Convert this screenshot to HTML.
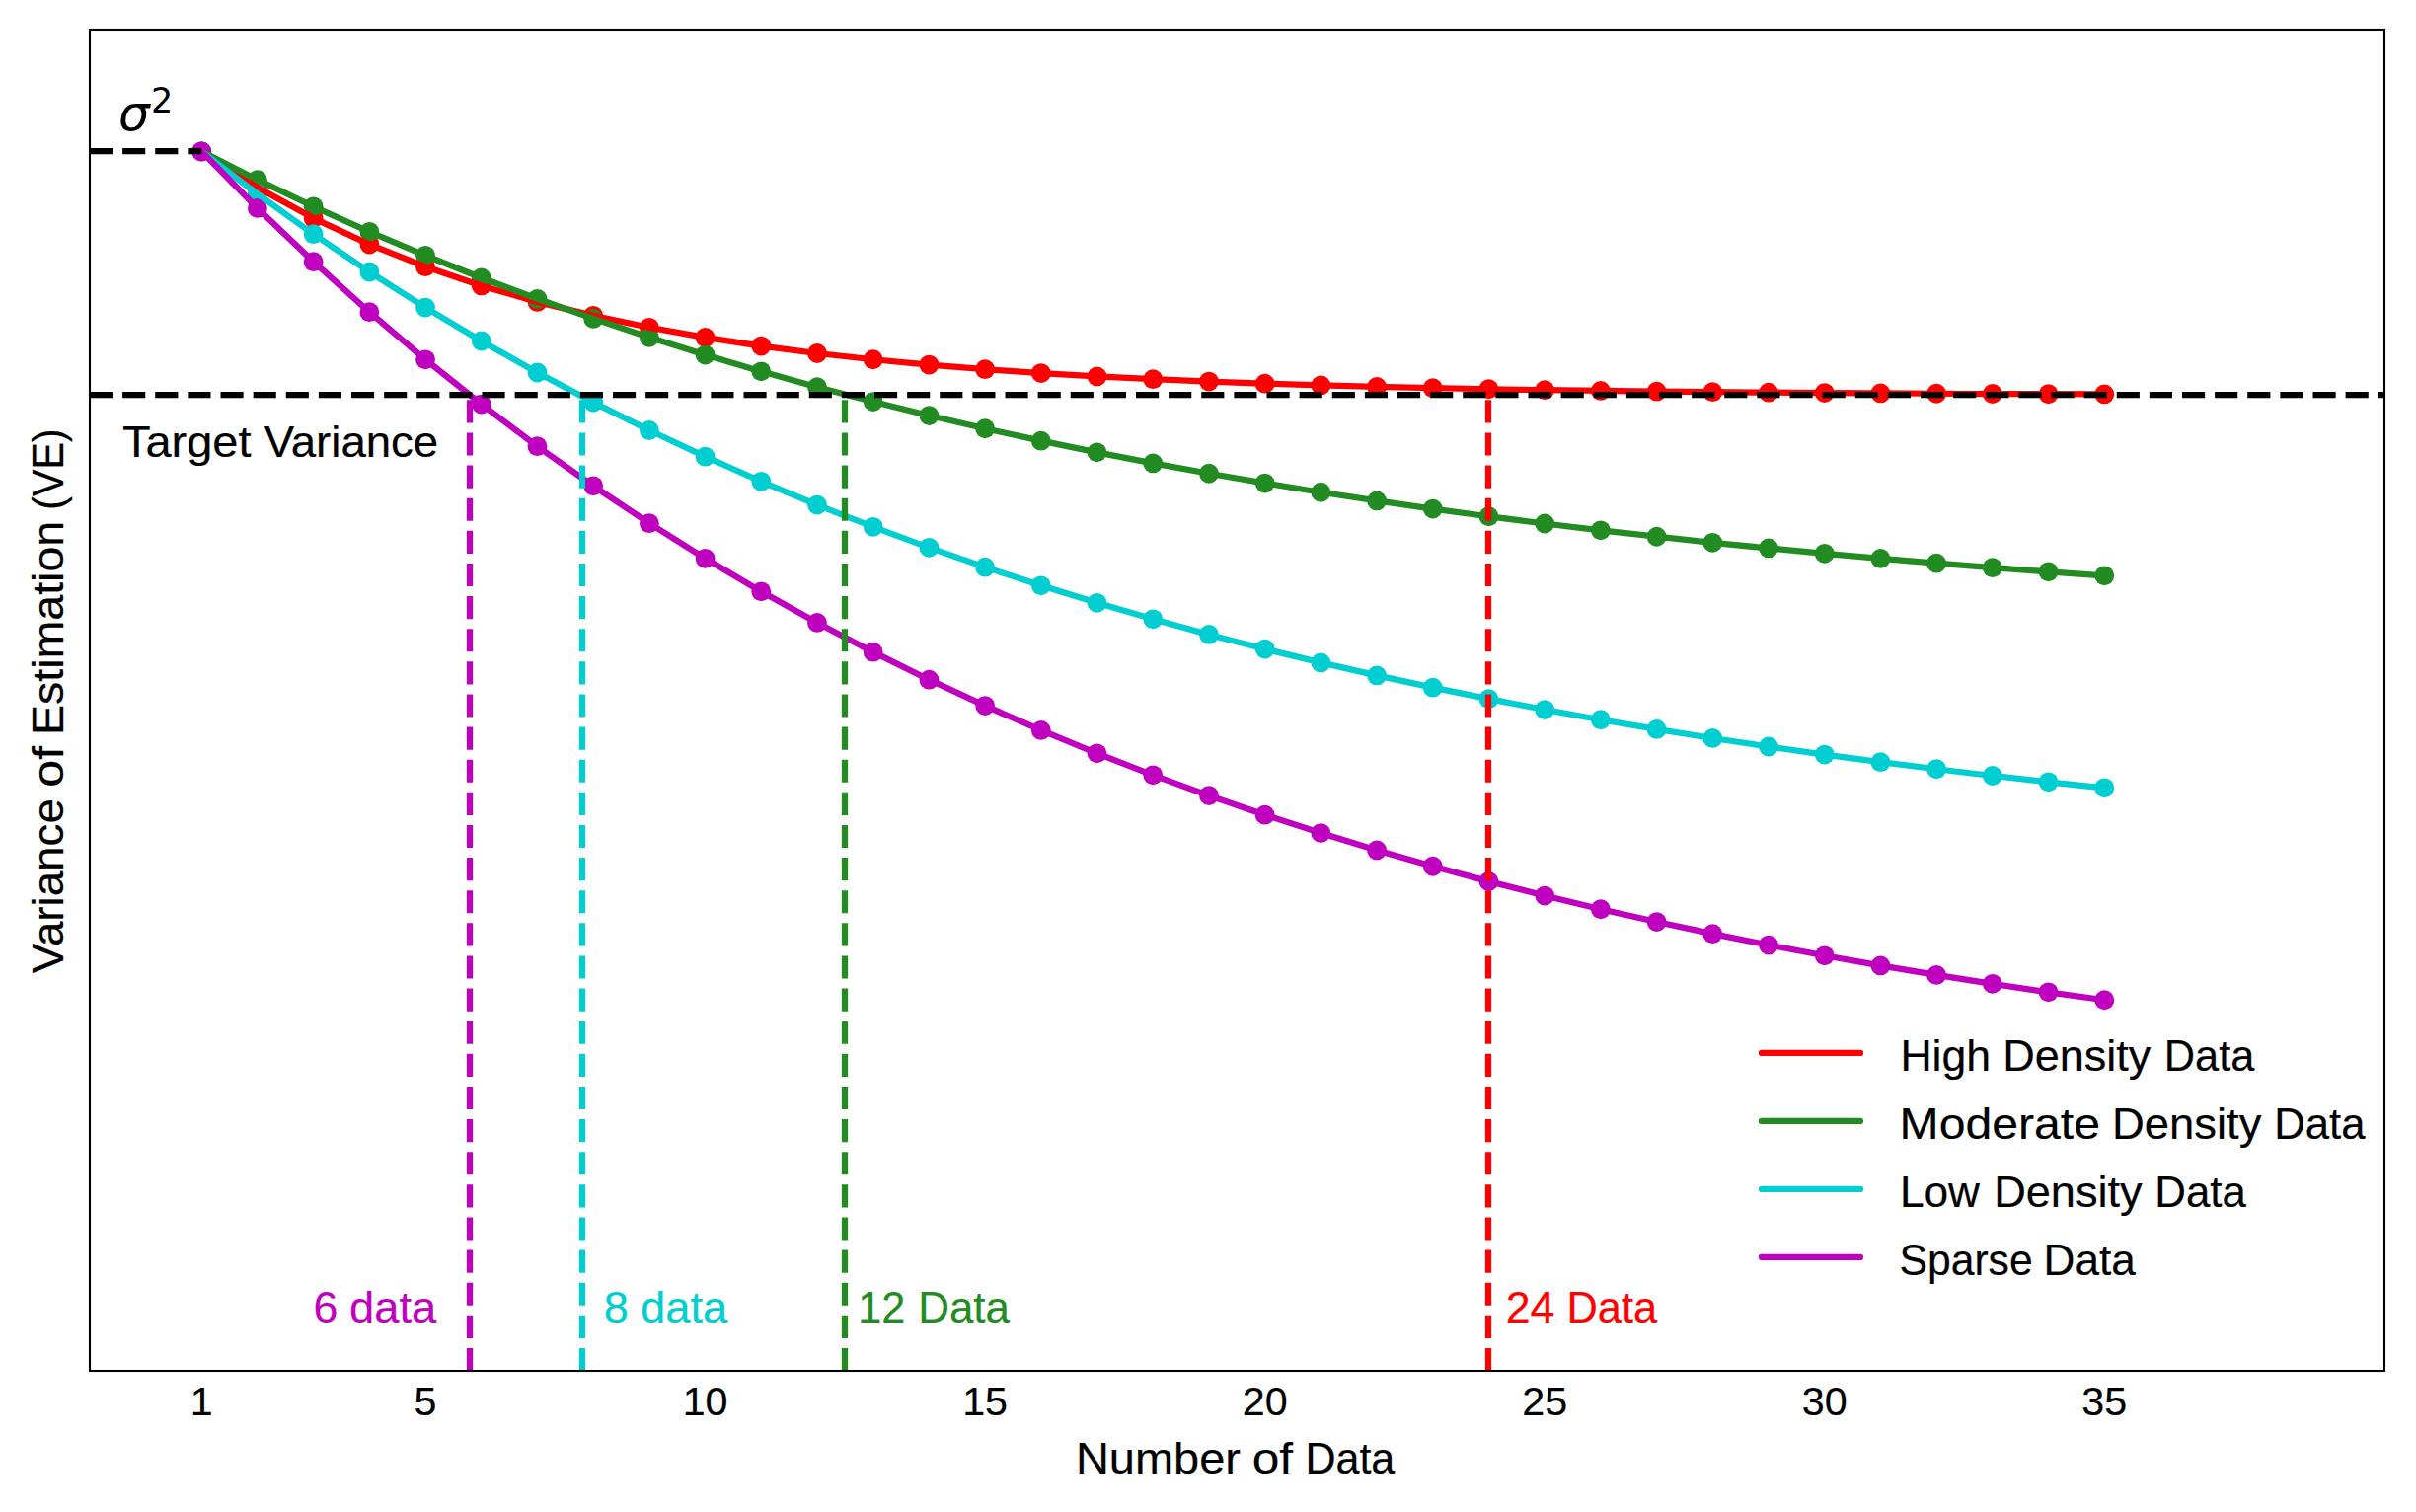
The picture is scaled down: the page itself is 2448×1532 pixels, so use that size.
<!DOCTYPE html>
<html><head><meta charset="utf-8"><title>Variance of Estimation vs Number of Data</title>
<style>html,body{margin:0;padding:0;background:#fff}svg{display:block}text{font-family:"Liberation Sans",sans-serif;white-space:pre}.m{font-family:"DejaVu Sans",sans-serif;font-style:italic}.n{font-family:"DejaVu Sans",sans-serif}</style></head><body>
<svg width="2448" height="1532" viewBox="0 0 2448 1532">
<rect width="2448" height="1532" fill="#fff"/>
<defs><clipPath id="ax"><rect x="91.0" y="30.0" width="2325.0" height="1359.0"/></clipPath></defs>
<g clip-path="url(#ax)">
<g fill="#ff0000"><circle cx="204.21" cy="153.40" r="9.9"/><circle cx="260.92" cy="189.93" r="9.9"/><circle cx="317.63" cy="221.06" r="9.9"/><circle cx="374.34" cy="247.59" r="9.9"/><circle cx="431.04" cy="270.20" r="9.9"/><circle cx="487.75" cy="289.46" r="9.9"/><circle cx="544.46" cy="305.88" r="9.9"/><circle cx="601.17" cy="319.87" r="9.9"/><circle cx="657.87" cy="331.79" r="9.9"/><circle cx="714.58" cy="341.94" r="9.9"/><circle cx="771.29" cy="350.60" r="9.9"/><circle cx="828.00" cy="357.98" r="9.9"/><circle cx="884.70" cy="364.26" r="9.9"/><circle cx="941.41" cy="369.62" r="9.9"/><circle cx="998.12" cy="374.18" r="9.9"/><circle cx="1054.82" cy="378.07" r="9.9"/><circle cx="1111.53" cy="381.39" r="9.9"/><circle cx="1168.24" cy="384.21" r="9.9"/><circle cx="1224.95" cy="386.62" r="9.9"/><circle cx="1281.65" cy="388.67" r="9.9"/><circle cx="1338.36" cy="390.41" r="9.9"/><circle cx="1395.07" cy="391.90" r="9.9"/><circle cx="1451.78" cy="393.17" r="9.9"/><circle cx="1508.48" cy="394.25" r="9.9"/><circle cx="1565.19" cy="395.18" r="9.9"/><circle cx="1621.90" cy="395.96" r="9.9"/><circle cx="1678.60" cy="396.63" r="9.9"/><circle cx="1735.31" cy="397.20" r="9.9"/><circle cx="1792.02" cy="397.69" r="9.9"/><circle cx="1848.73" cy="398.10" r="9.9"/><circle cx="1905.43" cy="398.45" r="9.9"/><circle cx="1962.14" cy="398.75" r="9.9"/><circle cx="2018.85" cy="399.01" r="9.9"/><circle cx="2075.56" cy="399.23" r="9.9"/><circle cx="2132.26" cy="399.41" r="9.9"/></g>
<g fill="#228b22"><circle cx="204.21" cy="153.40" r="9.9"/><circle cx="260.92" cy="182.17" r="9.9"/><circle cx="317.63" cy="209.28" r="9.9"/><circle cx="374.34" cy="234.80" r="9.9"/><circle cx="431.04" cy="258.84" r="9.9"/><circle cx="487.75" cy="281.48" r="9.9"/><circle cx="544.46" cy="302.80" r="9.9"/><circle cx="601.17" cy="322.88" r="9.9"/><circle cx="657.87" cy="341.79" r="9.9"/><circle cx="714.58" cy="359.59" r="9.9"/><circle cx="771.29" cy="376.36" r="9.9"/><circle cx="828.00" cy="392.16" r="9.9"/><circle cx="884.70" cy="407.03" r="9.9"/><circle cx="941.41" cy="421.04" r="9.9"/><circle cx="998.12" cy="434.23" r="9.9"/><circle cx="1054.82" cy="446.66" r="9.9"/><circle cx="1111.53" cy="458.36" r="9.9"/><circle cx="1168.24" cy="469.38" r="9.9"/><circle cx="1224.95" cy="479.76" r="9.9"/><circle cx="1281.65" cy="489.53" r="9.9"/><circle cx="1338.36" cy="498.73" r="9.9"/><circle cx="1395.07" cy="507.40" r="9.9"/><circle cx="1451.78" cy="515.56" r="9.9"/><circle cx="1508.48" cy="523.25" r="9.9"/><circle cx="1565.19" cy="530.49" r="9.9"/><circle cx="1621.90" cy="537.31" r="9.9"/><circle cx="1678.60" cy="543.73" r="9.9"/><circle cx="1735.31" cy="549.78" r="9.9"/><circle cx="1792.02" cy="555.47" r="9.9"/><circle cx="1848.73" cy="560.84" r="9.9"/><circle cx="1905.43" cy="565.89" r="9.9"/><circle cx="1962.14" cy="570.65" r="9.9"/><circle cx="2018.85" cy="575.13" r="9.9"/><circle cx="2075.56" cy="579.35" r="9.9"/><circle cx="2132.26" cy="583.32" r="9.9"/></g>
<g fill="#00ced1"><circle cx="204.21" cy="153.40" r="9.9"/><circle cx="260.92" cy="196.56" r="9.9"/><circle cx="317.63" cy="237.22" r="9.9"/><circle cx="374.34" cy="275.51" r="9.9"/><circle cx="431.04" cy="311.56" r="9.9"/><circle cx="487.75" cy="345.52" r="9.9"/><circle cx="544.46" cy="377.50" r="9.9"/><circle cx="601.17" cy="407.62" r="9.9"/><circle cx="657.87" cy="435.98" r="9.9"/><circle cx="714.58" cy="462.69" r="9.9"/><circle cx="771.29" cy="487.85" r="9.9"/><circle cx="828.00" cy="511.54" r="9.9"/><circle cx="884.70" cy="533.85" r="9.9"/><circle cx="941.41" cy="554.86" r="9.9"/><circle cx="998.12" cy="574.65" r="9.9"/><circle cx="1054.82" cy="593.29" r="9.9"/><circle cx="1111.53" cy="610.84" r="9.9"/><circle cx="1168.24" cy="627.37" r="9.9"/><circle cx="1224.95" cy="642.94" r="9.9"/><circle cx="1281.65" cy="657.60" r="9.9"/><circle cx="1338.36" cy="671.40" r="9.9"/><circle cx="1395.07" cy="684.40" r="9.9"/><circle cx="1451.78" cy="696.65" r="9.9"/><circle cx="1508.48" cy="708.18" r="9.9"/><circle cx="1565.19" cy="719.04" r="9.9"/><circle cx="1621.90" cy="729.27" r="9.9"/><circle cx="1678.60" cy="738.90" r="9.9"/><circle cx="1735.31" cy="747.97" r="9.9"/><circle cx="1792.02" cy="756.51" r="9.9"/><circle cx="1848.73" cy="764.56" r="9.9"/><circle cx="1905.43" cy="772.14" r="9.9"/><circle cx="1962.14" cy="779.27" r="9.9"/><circle cx="2018.85" cy="785.99" r="9.9"/><circle cx="2075.56" cy="792.32" r="9.9"/><circle cx="2132.26" cy="798.28" r="9.9"/></g>
<g fill="#bf00bf"><circle cx="204.21" cy="153.40" r="9.9"/><circle cx="260.92" cy="210.95" r="9.9"/><circle cx="317.63" cy="265.16" r="9.9"/><circle cx="374.34" cy="316.21" r="9.9"/><circle cx="431.04" cy="364.28" r="9.9"/><circle cx="487.75" cy="409.56" r="9.9"/><circle cx="544.46" cy="452.20" r="9.9"/><circle cx="601.17" cy="492.36" r="9.9"/><circle cx="657.87" cy="530.18" r="9.9"/><circle cx="714.58" cy="565.79" r="9.9"/><circle cx="771.29" cy="599.33" r="9.9"/><circle cx="828.00" cy="630.92" r="9.9"/><circle cx="884.70" cy="660.67" r="9.9"/><circle cx="941.41" cy="688.69" r="9.9"/><circle cx="998.12" cy="715.07" r="9.9"/><circle cx="1054.82" cy="739.92" r="9.9"/><circle cx="1111.53" cy="763.32" r="9.9"/><circle cx="1168.24" cy="785.36" r="9.9"/><circle cx="1224.95" cy="806.12" r="9.9"/><circle cx="1281.65" cy="825.66" r="9.9"/><circle cx="1338.36" cy="844.07" r="9.9"/><circle cx="1395.07" cy="861.41" r="9.9"/><circle cx="1451.78" cy="877.73" r="9.9"/><circle cx="1508.48" cy="893.11" r="9.9"/><circle cx="1565.19" cy="907.59" r="9.9"/><circle cx="1621.90" cy="921.23" r="9.9"/><circle cx="1678.60" cy="934.07" r="9.9"/><circle cx="1735.31" cy="946.16" r="9.9"/><circle cx="1792.02" cy="957.55" r="9.9"/><circle cx="1848.73" cy="968.28" r="9.9"/><circle cx="1905.43" cy="978.38" r="9.9"/><circle cx="1962.14" cy="987.90" r="9.9"/><circle cx="2018.85" cy="996.86" r="9.9"/><circle cx="2075.56" cy="1005.30" r="9.9"/><circle cx="2132.26" cy="1013.24" r="9.9"/></g>
<polyline points="204.21,153.40 260.92,189.93 317.63,221.06 374.34,247.59 431.04,270.20 487.75,289.46 544.46,305.88 601.17,319.87 657.87,331.79 714.58,341.94 771.29,350.60 828.00,357.98 884.70,364.26 941.41,369.62 998.12,374.18 1054.82,378.07 1111.53,381.39 1168.24,384.21 1224.95,386.62 1281.65,388.67 1338.36,390.41 1395.07,391.90 1451.78,393.17 1508.48,394.25 1565.19,395.18 1621.90,395.96 1678.60,396.63 1735.31,397.20 1792.02,397.69 1848.73,398.10 1905.43,398.45 1962.14,398.75 2018.85,399.01 2075.56,399.23 2132.26,399.41" fill="none" stroke="#ff0000" stroke-width="6.25" stroke-linejoin="round" stroke-linecap="round"/>
<polyline points="204.21,153.40 260.92,182.17 317.63,209.28 374.34,234.80 431.04,258.84 487.75,281.48 544.46,302.80 601.17,322.88 657.87,341.79 714.58,359.59 771.29,376.36 828.00,392.16 884.70,407.03 941.41,421.04 998.12,434.23 1054.82,446.66 1111.53,458.36 1168.24,469.38 1224.95,479.76 1281.65,489.53 1338.36,498.73 1395.07,507.40 1451.78,515.56 1508.48,523.25 1565.19,530.49 1621.90,537.31 1678.60,543.73 1735.31,549.78 1792.02,555.47 1848.73,560.84 1905.43,565.89 1962.14,570.65 2018.85,575.13 2075.56,579.35 2132.26,583.32" fill="none" stroke="#228b22" stroke-width="6.25" stroke-linejoin="round" stroke-linecap="round"/>
<polyline points="204.21,153.40 260.92,196.56 317.63,237.22 374.34,275.51 431.04,311.56 487.75,345.52 544.46,377.50 601.17,407.62 657.87,435.98 714.58,462.69 771.29,487.85 828.00,511.54 884.70,533.85 941.41,554.86 998.12,574.65 1054.82,593.29 1111.53,610.84 1168.24,627.37 1224.95,642.94 1281.65,657.60 1338.36,671.40 1395.07,684.40 1451.78,696.65 1508.48,708.18 1565.19,719.04 1621.90,729.27 1678.60,738.90 1735.31,747.97 1792.02,756.51 1848.73,764.56 1905.43,772.14 1962.14,779.27 2018.85,785.99 2075.56,792.32 2132.26,798.28" fill="none" stroke="#00ced1" stroke-width="6.25" stroke-linejoin="round" stroke-linecap="round"/>
<polyline points="204.21,153.40 260.92,210.95 317.63,265.16 374.34,316.21 431.04,364.28 487.75,409.56 544.46,452.20 601.17,492.36 657.87,530.18 714.58,565.79 771.29,599.33 828.00,630.92 884.70,660.67 941.41,688.69 998.12,715.07 1054.82,739.92 1111.53,763.32 1168.24,785.36 1224.95,806.12 1281.65,825.66 1338.36,844.07 1395.07,861.41 1451.78,877.73 1508.48,893.11 1565.19,907.59 1621.90,921.23 1678.60,934.07 1735.31,946.16 1792.02,957.55 1848.73,968.28 1905.43,978.38 1962.14,987.90 2018.85,996.86 2075.56,1005.30 2132.26,1013.24" fill="none" stroke="#bf00bf" stroke-width="6.25" stroke-linejoin="round" stroke-linecap="round"/>
<line x1="91.0" y1="153" x2="204.21" y2="153" stroke="#000" stroke-width="6.25" stroke-dasharray="23.125 10"/>
<line x1="476" y1="1389.0" x2="476" y2="400" stroke="#bf00bf" stroke-width="6.25" stroke-dasharray="23.125 10"/>
<line x1="590" y1="1389.0" x2="590" y2="400" stroke="#00ced1" stroke-width="6.25" stroke-dasharray="23.125 10"/>
<line x1="856" y1="1389.0" x2="856" y2="400" stroke="#228b22" stroke-width="6.25" stroke-dasharray="23.125 10"/>
<line x1="1508" y1="1389.0" x2="1508" y2="400" stroke="#ff0000" stroke-width="6.25" stroke-dasharray="23.125 10"/>
<line x1="91.0" y1="400" x2="2416.0" y2="400" stroke="#000" stroke-width="6.25" stroke-dasharray="23.125 10"/>
</g>
<rect x="91.0" y="30.0" width="2325.0" height="1359.0" fill="none" stroke="#000" stroke-width="2.08"/>
<line x1="1785" y1="1066.9" x2="1885" y2="1066.9" stroke="#ff0000" stroke-width="6.25" stroke-linecap="round"/>
<line x1="1785" y1="1135.9" x2="1885" y2="1135.9" stroke="#228b22" stroke-width="6.25" stroke-linecap="round"/>
<line x1="1785" y1="1204.9" x2="1885" y2="1204.9" stroke="#00ced1" stroke-width="6.25" stroke-linecap="round"/>
<line x1="1785" y1="1273.9" x2="1885" y2="1273.9" stroke="#bf00bf" stroke-width="6.25" stroke-linecap="round"/>
<text id="t1" x="204.21" y="1434.20" font-size="41.20" fill="#000" stroke="#000" stroke-width="0.2" text-anchor="middle">1</text>
<text id="t5" x="431.04" y="1434.20" font-size="41.20" fill="#000" stroke="#000" stroke-width="0.2" text-anchor="middle">5</text>
<text id="t10" x="714.58" y="1434.20" font-size="41.20" fill="#000" stroke="#000" stroke-width="0.2" text-anchor="middle">10</text>
<text id="t15" x="998.12" y="1434.20" font-size="41.20" fill="#000" stroke="#000" stroke-width="0.2" text-anchor="middle">15</text>
<text id="t20" x="1281.65" y="1434.20" font-size="41.20" fill="#000" stroke="#000" stroke-width="0.2" text-anchor="middle">20</text>
<text id="t25" x="1565.19" y="1434.20" font-size="41.20" fill="#000" stroke="#000" stroke-width="0.2" text-anchor="middle">25</text>
<text id="t30" x="1848.73" y="1434.20" font-size="41.20" fill="#000" stroke="#000" stroke-width="0.2" text-anchor="middle">30</text>
<text id="t35" x="2132.26" y="1434.20" font-size="41.20" fill="#000" stroke="#000" stroke-width="0.2" text-anchor="middle">35</text>
<text id="tv" y="462.9" font-size="45.0" fill="#000" stroke="#000" stroke-width="0.2"><tspan id="tv_0" x="123.98" textLength="130.48" lengthAdjust="spacingAndGlyphs">Target</tspan> <tspan id="tv_1" x="267.79" textLength="176.41" lengthAdjust="spacingAndGlyphs">Variance</tspan></text>
<text id="xl" y="1493.0" font-size="45.0" fill="#000" stroke="#000" stroke-width="0.2"><tspan id="xl_0" x="1089.96" textLength="166.95" lengthAdjust="spacingAndGlyphs">Number</tspan> <tspan id="xl_1" x="1268.67" textLength="41.33" lengthAdjust="spacingAndGlyphs">of</tspan> <tspan id="xl_2" x="1322.41" textLength="90.89" lengthAdjust="spacingAndGlyphs">Data</tspan></text>
<text id="l1" y="1084.6" font-size="45.0" fill="#000" stroke="#000" stroke-width="0.2"><tspan id="l1_0" x="1925.43" textLength="91.64" lengthAdjust="spacingAndGlyphs">High</tspan> <tspan id="l1_1" x="2029.17" textLength="150.24" lengthAdjust="spacingAndGlyphs">Density</tspan> <tspan id="l1_2" x="2192.87" textLength="91.45" lengthAdjust="spacingAndGlyphs">Data</tspan></text>
<text id="l2" y="1153.7" font-size="45.0" fill="#000" stroke="#000" stroke-width="0.2"><tspan id="l2_0" x="1924.63" textLength="203.35" lengthAdjust="spacingAndGlyphs">Moderate</tspan> <tspan id="l2_1" x="2140.04" textLength="151.39" lengthAdjust="spacingAndGlyphs">Density</tspan> <tspan id="l2_2" x="2304.28" textLength="92.17" lengthAdjust="spacingAndGlyphs">Data</tspan></text>
<text id="l3" y="1222.6" font-size="45.0" fill="#000" stroke="#000" stroke-width="0.2"><tspan id="l3_0" x="1924.90" textLength="81.07" lengthAdjust="spacingAndGlyphs">Low</tspan> <tspan id="l3_1" x="2020.15" textLength="150.57" lengthAdjust="spacingAndGlyphs">Density</tspan> <tspan id="l3_2" x="2183.31" textLength="92.44" lengthAdjust="spacingAndGlyphs">Data</tspan></text>
<text id="l4" y="1291.7" font-size="45.0" fill="#000" stroke="#000" stroke-width="0.2"><tspan id="l4_0" x="1924.56" textLength="135.08" lengthAdjust="spacingAndGlyphs">Sparse</tspan> <tspan id="l4_1" x="2070.58" textLength="93.18" lengthAdjust="spacingAndGlyphs">Data</tspan></text>
<text id="a6" y="1339.5" font-size="45.0" fill="#bf00bf" stroke="#bf00bf" stroke-width="0.2"><tspan id="a6_0" x="317.40" textLength="24.83" lengthAdjust="spacingAndGlyphs">6</tspan> <tspan id="a6_1" x="354.08" textLength="88.06" lengthAdjust="spacingAndGlyphs">data</tspan></text>
<text id="a8" y="1339.5" font-size="45.0" fill="#00ced1" stroke="#00ced1" stroke-width="0.2"><tspan id="a8_0" x="611.76" textLength="25.13" lengthAdjust="spacingAndGlyphs">8</tspan> <tspan id="a8_1" x="649.04" textLength="88.17" lengthAdjust="spacingAndGlyphs">data</tspan></text>
<text id="a12" y="1339.5" font-size="45.0" fill="#228b22" stroke="#228b22" stroke-width="0.2"><tspan id="a12_0" x="869.24" textLength="48.11" lengthAdjust="spacingAndGlyphs">12</tspan> <tspan id="a12_1" x="930.28" textLength="92.66" lengthAdjust="spacingAndGlyphs">Data</tspan></text>
<text id="a24" y="1339.5" font-size="45.0" fill="#ff0000" stroke="#ff0000" stroke-width="0.2"><tspan id="a24_0" x="1525.72" textLength="49.73" lengthAdjust="spacingAndGlyphs">24</tspan> <tspan id="a24_1" x="1587.59" textLength="91.54" lengthAdjust="spacingAndGlyphs">Data</tspan></text>
<text id="yl" transform="translate(63.8,986.1) rotate(-90)" font-size="45.0" fill="#000" stroke="#000" stroke-width="0.2"><tspan id="yl_0" x="-0.08" textLength="176.98" lengthAdjust="spacingAndGlyphs">Variance</tspan> <tspan id="yl_1" x="188.35" textLength="41.82" lengthAdjust="spacingAndGlyphs">of</tspan> <tspan id="yl_2" x="241.07" textLength="217.26" lengthAdjust="spacingAndGlyphs">Estimation</tspan> <tspan id="yl_3" x="469.36" textLength="82.28" lengthAdjust="spacingAndGlyphs">(VE)</tspan></text>
<text id="sg" class="m" x="120.00" y="131.70" font-size="50">σ</text>
<text id="s2" class="n" x="153.00" y="113.80" font-size="35">2</text>
</svg></body></html>
